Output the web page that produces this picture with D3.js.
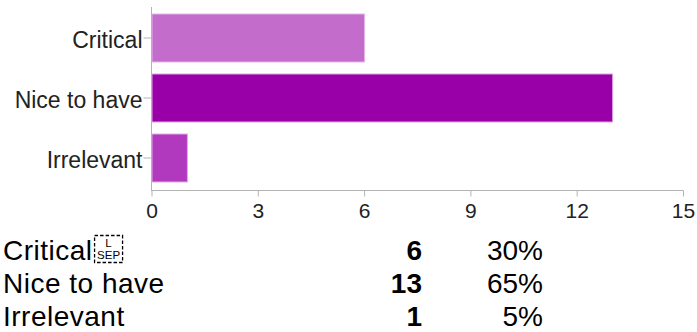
<!DOCTYPE html>
<html>
<head>
<meta charset="utf-8">
<script src="https://cdn.jsdelivr.net/npm/d3@7"></script>
<style>
  html, body { margin: 0; padding: 0; background: #fff; }
  svg { display: block; }
  text { font-family: "Liberation Sans", Arial, Helvetica, sans-serif; }
</style>
</head>
<body>
<svg id="chart" width="697" height="332"></svg>
<script>
// Survey answers and their counts
const categories = ["Critical", "Nice to have", "Irrelevant"];
const counts = [6, 13, 1];
const percents = ["30%", "65%", "5%"];
const xTicks = [0, 3, 6, 9, 12, 15];
const barColors = ["#c36ccc", "#9900a8", "#b039be"];
const barEdges = ["#e4b6e8", "#dba6e2", "#dfaee6"];

const svg = d3.select("#chart");

const x = d3.scaleLinear().domain([0, 15]).range([151.5, 683]);
const y = d3.scaleBand().domain(categories).range([8, 188])
  .paddingInner(0.2).paddingOuter(0.1);

const axisColor = "#b3b3b3";

// Bars
svg.append("g").selectAll("rect")
  .data(categories)
  .join("rect")
  .attr("x", x(0) + 0.5)
  .attr("y", d => y(d))
  .attr("width", (d, i) => x(counts[i]) - x(0))
  .attr("height", y.bandwidth())
  .attr("fill", (d, i) => barColors[i])
  .attr("stroke", (d, i) => barEdges[i])
  .attr("stroke-width", 1);

// Category axis
const yAxis = svg.append("g")
  .attr("transform", `translate(${x(0)},0)`)
  .call(d3.axisLeft(y).tickSize(8).tickPadding(1).tickSizeOuter(0));
yAxis.select(".domain").remove();
yAxis.selectAll(".tick line").attr("stroke", axisColor);
yAxis.selectAll(".tick text")
  .attr("fill", "#222")
  .attr("font-size", 23)
  .attr("dy", "0.43em");

// Value axis
const xAxis = svg.append("g")
  .attr("transform", "translate(0,190.5)")
  .call(d3.axisBottom(x).tickValues(xTicks).tickSize(6).tickPadding(7).tickSizeOuter(0));
xAxis.select(".domain").remove();
xAxis.selectAll(".tick line").attr("stroke", axisColor);
xAxis.selectAll(".tick text")
  .attr("fill", "#222")
  .attr("font-size", 21);

// Axis lines
svg.append("line")
  .attr("x1", x(0)).attr("x2", x(0))
  .attr("y1", 7).attr("y2", 191)
  .attr("stroke", axisColor);
svg.append("line")
  .attr("x1", x(0)).attr("x2", x(15) + 0.5)
  .attr("y1", 190.5).attr("y2", 190.5)
  .attr("stroke", axisColor);

// Summary table below the chart
const rowBaseline = [259.5, 292.5, 325.5];
const table = svg.append("g");
const labels = table.selectAll("text.label")
  .data(categories)
  .join("text")
  .attr("class", "label")
  .attr("x", 3)
  .attr("y", (d, i) => rowBaseline[i])
  .attr("font-size", 28)
  .attr("letter-spacing", 0.5)
  .attr("fill", "#000")
  .text(d => d);

table.selectAll("text.count")
  .data(counts)
  .join("text")
  .attr("class", "count")
  .attr("x", 422)
  .attr("y", (d, i) => rowBaseline[i])
  .attr("text-anchor", "end")
  .attr("font-size", 28)
  .attr("font-weight", "bold")
  .attr("fill", "#000")
  .text(d => d);

table.selectAll("text.pct")
  .data(percents)
  .join("text")
  .attr("class", "pct")
  .attr("x", 543)
  .attr("y", (d, i) => rowBaseline[i])
  .attr("text-anchor", "end")
  .attr("font-size", 28)
  .attr("fill", "#000")
  .text(d => d);

// Line-separator control glyph trailing the first label
const firstLabel = labels.filter((d, i) => i === 0).node();
const gx = 3 + firstLabel.getComputedTextLength() + 2;
const glyph = table.append("g").attr("transform", `translate(${gx},235.5)`);
glyph.append("rect")
  .attr("width", 28).attr("height", 27)
  .attr("fill", "none")
  .attr("stroke", "#000")
  .attr("stroke-width", 1.3)
  .attr("stroke-dasharray", "3.5,2");
glyph.append("text")
  .attr("x", 14).attr("y", 11.5)
  .attr("text-anchor", "middle")
  .attr("font-size", 11.5)
  .attr("fill", "#000")
  .text("L");
glyph.append("text")
  .attr("x", 14).attr("y", 23)
  .attr("text-anchor", "middle")
  .attr("font-size", 11.5)
  .attr("fill", "#000")
  .text("SEP");
</script>
</body>
</html>
